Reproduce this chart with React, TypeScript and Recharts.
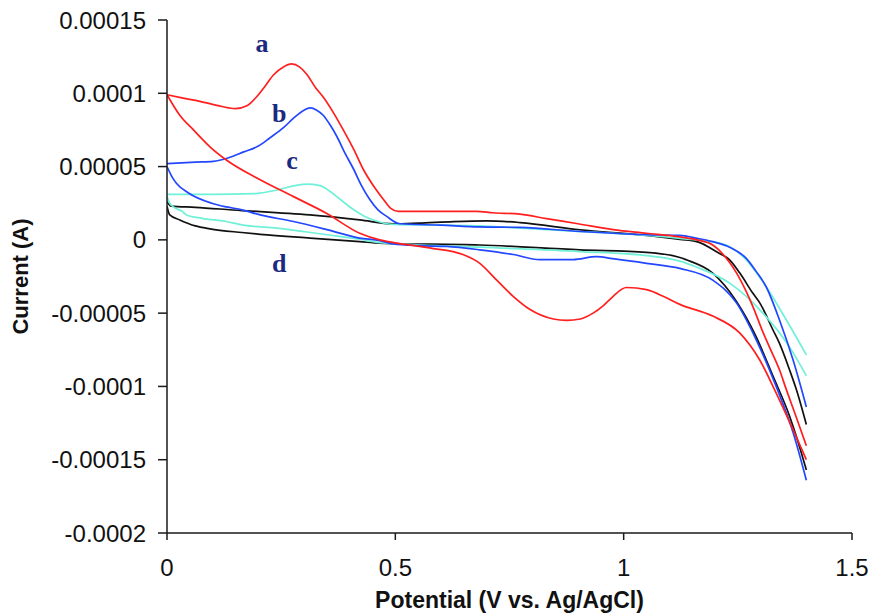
import { LineChart, Line, XAxis, YAxis, ReferenceDot } from "recharts";

// potential (V) vs current in units of 1e-5 A
const aForward = [
  [0, 9.9], [0.03, 9.7], [0.072, 9.45], [0.12, 9.1], [0.149, 8.95], [0.175, 9.15],
  [0.196, 9.75], [0.215, 10.5], [0.233, 11.25], [0.255, 11.8], [0.273, 12.0], [0.29, 11.8],
  [0.306, 11.3], [0.325, 10.4], [0.342, 9.75], [0.365, 8.65], [0.386, 7.5], [0.41, 6.1],
  [0.43, 4.8], [0.455, 3.55], [0.474, 2.75], [0.49, 2.15], [0.506, 1.95], [0.6, 1.95],
  [0.677, 1.95], [0.714, 1.85], [0.773, 1.75], [0.831, 1.45], [0.9, 1.1], [0.977, 0.7],
  [1.05, 0.45], [1.123, 0.2], [1.16, 0], [1.195, -0.35], [1.232, -1.55], [1.247, -2.25],
  [1.268, -3.5], [1.283, -4.55], [1.305, -6.3], [1.319, -7.3], [1.341, -8.85],
  [1.356, -10.2], [1.378, -12.1], [1.4, -14.05],
];
const aReverse = [
  [0, 9.9], [0.028, 8.5], [0.058, 7.5], [0.094, 6.35], [0.13, 5.45], [0.204, 4.1],
  [0.277, 2.95], [0.35, 1.8], [0.422, 0.45], [0.466, 0], [0.5, -0.2], [0.575, -0.55],
  [0.648, -1.0], [0.685, -1.6], [0.722, -2.75], [0.758, -3.85], [0.795, -4.75],
  [0.846, -5.4], [0.875, -5.5], [0.905, -5.4], [0.933, -5.0], [0.955, -4.5], [0.977, -3.85],
  [1.006, -3.25], [1.05, -3.4], [1.09, -3.9], [1.123, -4.4], [1.195, -5.2], [1.254, -6.35],
  [1.298, -8.2], [1.334, -10.45], [1.371, -12.95], [1.4, -15.0],
];
const bForward = [
  [0, 5.2], [0.062, 5.3], [0.101, 5.35], [0.135, 5.6], [0.168, 6.0], [0.2, 6.4],
  [0.225, 6.95], [0.255, 7.65], [0.277, 8.3], [0.3, 8.85], [0.313, 9.0], [0.328, 8.85],
  [0.342, 8.5], [0.357, 7.85], [0.372, 7.05], [0.39, 5.9], [0.409, 4.8], [0.425, 3.75],
  [0.444, 2.75], [0.462, 2.05], [0.481, 1.6], [0.51, 1.1], [0.6, 1.0], [0.685, 0.88],
  [0.773, 0.85], [0.904, 0.57], [1.05, 0.35], [1.123, 0.3], [1.159, 0.12], [1.195, -0.12],
  [1.232, -0.5], [1.268, -1.25], [1.29, -2.15], [1.312, -3.2], [1.341, -5.45],
  [1.371, -8.2], [1.4, -11.4],
];
const bReverse = [
  [0, 5.0], [0.011, 4.3], [0.021, 3.85], [0.047, 3.2], [0.098, 2.5], [0.13, 2.25],
  [0.164, 2.05], [0.204, 1.7], [0.277, 1.25], [0.35, 0.7], [0.422, 0.12], [0.466, -0.05],
  [0.495, -0.28], [0.554, -0.4], [0.612, -0.45], [0.685, -0.68], [0.758, -1.0],
  [0.816, -1.35], [0.889, -1.35], [0.94, -1.15], [0.98, -1.3], [1.05, -1.6], [1.123, -1.95],
  [1.195, -2.75], [1.247, -4.3], [1.29, -6.8], [1.334, -10.0], [1.371, -13.15], [1.4, -16.4],
];
const cForward = [
  [0, 3.1], [0.1, 3.1], [0.19, 3.15], [0.241, 3.4], [0.28, 3.7], [0.306, 3.8],
  [0.335, 3.7], [0.355, 3.35], [0.372, 2.95], [0.39, 2.5], [0.409, 2.05], [0.43, 1.65],
  [0.452, 1.35], [0.495, 1.05], [0.6, 1.0], [0.685, 0.95], [0.773, 0.8], [0.904, 0.57],
  [0.977, 0.45], [1.123, 0.1], [1.214, -0.25], [1.268, -1.35], [1.312, -3.2],
  [1.356, -5.45], [1.4, -7.85],
];
const cReverse = [
  [0, 2.95], [0.006, 2.5], [0.014, 2.25], [0.033, 1.95], [0.043, 1.7], [0.077, 1.47],
  [0.13, 1.25], [0.164, 1.02], [0.241, 0.8], [0.35, 0.35], [0.422, 0.05], [0.466, -0.19],
  [0.685, -0.5], [0.904, -0.8], [1.05, -1.08], [1.123, -1.45], [1.159, -1.85],
  [1.232, -2.95], [1.305, -5.0], [1.363, -7.3], [1.4, -9.27],
];
const dForward = [
  [0, 2.6], [0.009, 2.3], [0.062, 2.22], [0.164, 2.0], [0.204, 1.93], [0.313, 1.7],
  [0.422, 1.36], [0.495, 1.09], [0.55, 1.14], [0.627, 1.25], [0.7, 1.3], [0.773, 1.18],
  [0.904, 0.68], [1.05, 0.3], [1.123, 0.03], [1.16, -0.12], [1.208, -0.9], [1.232, -1.36],
  [1.254, -2.25], [1.283, -3.65], [1.298, -4.3], [1.327, -6.15], [1.341, -7.05],
  [1.363, -8.85], [1.378, -10.2], [1.4, -12.6],
];
const dReverse = [
  [0, 2.3], [0.006, 1.7], [0.028, 1.36], [0.062, 0.95], [0.094, 0.75], [0.164, 0.5],
  [0.204, 0.38], [0.313, 0.12], [0.422, -0.12], [0.466, -0.23], [0.685, -0.35],
  [0.904, -0.68], [1.05, -0.85], [1.123, -1.2], [1.137, -1.36], [1.195, -2.27],
  [1.247, -4.2], [1.29, -6.6], [1.327, -9.3], [1.363, -12.0], [1.378, -13.4], [1.4, -15.7],
];

const xTicks = [0, 0.5, 1, 1.5];
const yTicks = [0.00015, 0.0001, 0.00005, 0, -0.00005, -0.0001, -0.00015, -0.0002];

// curve letters, placed in data coords (V, 1e-5 A)
const curveLabels = [
  { text: "a", v: 0.208, i: 13.45 },
  { text: "b", v: 0.246, i: 8.68 },
  { text: "c", v: 0.274, i: 5.47 },
  { text: "d", v: 0.246, i: -1.56 },
];

const RED = "#ff1f1f";
const BLUE = "#2347ff";
const CYAN = "#6ff0d8";
const BLACK = "#111111";
const LETTER = "#1b2a80";

const toPts = (arr: number[][]) => arr.map(([v, i]) => ({ v, i: i * 1e-5 }));

const series = [
  { key: "dF", data: dForward, color: BLACK },
  { key: "dR", data: dReverse, color: BLACK },
  { key: "cF", data: cForward, color: CYAN },
  { key: "cR", data: cReverse, color: CYAN },
  { key: "bF", data: bForward, color: BLUE },
  { key: "bR", data: bReverse, color: BLUE },
  { key: "aF", data: aForward, color: RED },
  { key: "aR", data: aReverse, color: RED },
];

const FONT = "Liberation Sans, Arial, sans-serif";
const tickFont = { fill: "#111", fontSize: 24, fontFamily: FONT };
const axisStroke = { stroke: "#1a1a1a", strokeWidth: 1.5 };

export default function App() {
  return (
    <div style={{ position: "absolute", left: 0, top: 0, background: "#fff" }}>
      <LineChart width={871} height={614} margin={{ top: 20, right: 19, bottom: 0, left: 0 }}>
        <XAxis
          type="number"
          dataKey="v"
          domain={[0, 1.5]}
          ticks={xTicks}
          allowDataOverflow
          height={81}
          tick={tickFont}
          tickSize={7}
          tickMargin={19}
          axisLine={axisStroke}
          tickLine={axisStroke}
          label={{
            value: "Potential (V vs. Ag/AgCl)",
            position: "insideBottom",
            offset: 6,
            fill: "#111",
            fontSize: 23,
            fontWeight: "bold",
            fontFamily: FONT,
          }}
        />
        <YAxis
          type="number"
          dataKey="i"
          domain={[-0.0002, 0.00015]}
          ticks={yTicks}
          allowDataOverflow
          interval={0}
          width={167}
          tick={tickFont}
          tickSize={9}
          tickMargin={12}
          tickFormatter={(t: number) => String(t)}
          axisLine={axisStroke}
          tickLine={axisStroke}
          label={{
            value: "Current (A)",
            angle: -90,
            position: "insideLeft",
            offset: 20,
            fill: "#111",
            fontSize: 22,
            fontWeight: "bold",
            fontFamily: FONT,
            style: { textAnchor: "middle" },
          }}
        />
        {series.map((s) => (
          <Line
            key={s.key}
            data={toPts(s.data)}
            dataKey="i"
            type="monotone"
            stroke={s.color}
            strokeWidth={1.7}
            dot={false}
            activeDot={false}
            isAnimationActive={false}
          />
        ))}
        {curveLabels.map((l) => (
          <ReferenceDot
            key={l.text}
            x={l.v}
            y={l.i * 1e-5}
            r={0}
            fill="none"
            stroke="none"
            label={{
              value: l.text,
              position: "center",
              fill: LETTER,
              fontSize: 26,
              fontWeight: "bold",
              fontFamily: "Liberation Serif, Times New Roman, serif",
            }}
          />
        ))}
      </LineChart>
    </div>
  );
}
